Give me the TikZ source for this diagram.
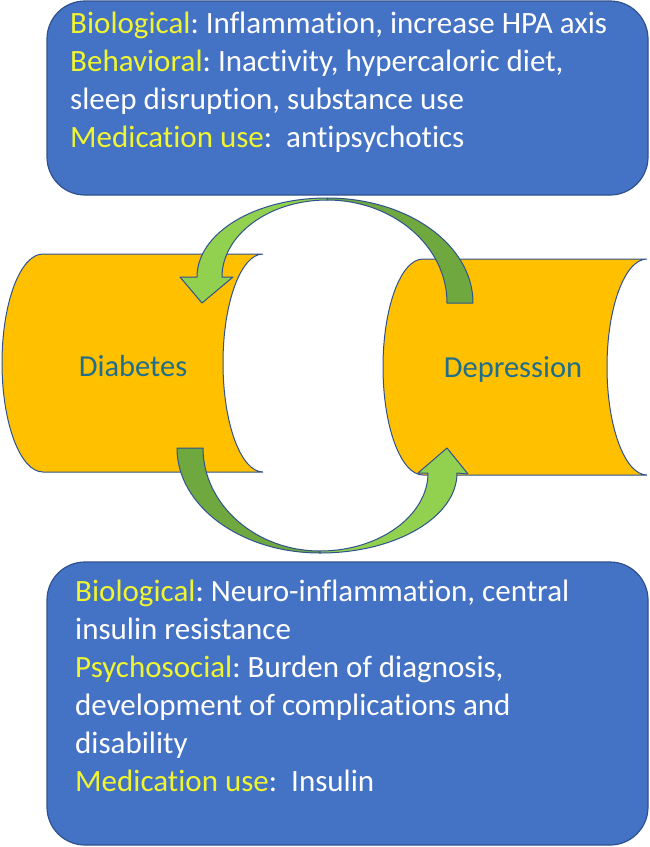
\documentclass[tikz,border=0pt]{standalone}
\usepackage{fontspec}
\setmainfont{Carlito}[Ligatures=NoCommon]
\usetikzlibrary{positioning}
\definecolor{boxblue}{RGB}{68,114,196}
\definecolor{edgeblue}{RGB}{47,82,143}
\definecolor{tubeorange}{RGB}{255,192,0}
\definecolor{leafgreen}{RGB}{146,208,80}
\definecolor{mossgreen}{RGB}{112,168,64}
\definecolor{tagyellow}{RGB}{240,245,50}
\definecolor{labelteal}{RGB}{31,110,140}
\newcommand{\tagword}[1]{\textcolor{tagyellow}{#1}}
\frenchspacing

\begin{document}
\begin{tikzpicture}[
  x=1pt, y=-1pt,
  infobox/.style={draw=edgeblue, fill=boxblue, line width=1.2pt, rounded corners=38pt, minimum width=601pt},
  infotext/.style={anchor=base west, inner sep=0pt, align=left, text=white, font=\fontsize{31}{38}\selectfont},
  tube/.style={draw=edgeblue, fill=tubeorange, line width=1pt},
  tubelabel/.style={text=labelteal, font=\fontsize{30.5}{36}\selectfont},
  shade/.style={draw=edgeblue, fill=mossgreen, line width=1pt, line join=round},
  bright/.style={draw=edgeblue, fill=leafgreen, line width=1pt, line join=round},
]
  \useasboundingbox (0,0) rectangle (650,847);

  % Boxes (text anchored on its last baseline)
  \node[infobox, minimum height=194pt] (topbox) at (347.5,98) {};
  \node[infobox, minimum height=283pt] (botbox) at (347.5,703.5) {};
  \node[infotext] (toptext) at (70,147) {\tagword{Biological}: Inflammation, increase HPA axis\\
    \tagword{Behavioral}: Inactivity, hypercaloric diet,\\
    sleep disruption, substance use\\
    \tagword{Medication use}:\ \ antipsychotics};
  \node[infotext] (bottext) at (75,791) {\tagword{Biological}: Neuro-inflammation, central\\
    insulin resistance\\
    \tagword{Psychosocial}: Burden of diagnosis,\\
    development of complications and\\
    disability\\
    \tagword{Medication use}:\ \ Insulin};

  % Tubes
  \draw[tube] (43,254) -- (263,254) arc[start angle=-90, end angle=-270, x radius=40, y radius=109]
    -- (43,472) arc[start angle=90, end angle=270, x radius=41, y radius=109] -- cycle;
  \draw[tube] (423,259) -- (647,259) arc[start angle=-90, end angle=-270, x radius=40, y radius=108]
    -- (423,475) arc[start angle=90, end angle=270, x radius=40, y radius=108] -- cycle;
  \node[tubelabel] (diab) at (133,366) {Diabetes};
  \node[tubelabel] (depr) at (513,369) {Depression};

  % Upper arrow (Depression to Diabetes)
  \draw[shade] (327,198) .. controls (408,198) and (473,245) .. (473,303) -- (447,303)
    .. controls (447,246) and (393,200) .. (327,200) -- cycle;
  \draw[bright] (327,198) .. controls (255,198) and (197,233) .. (197,277) -- (180,277) -- (202,303)
    -- (233,277) -- (222,277) .. controls (222,235) and (269,200) .. (327,200) -- cycle;

  % Lower arrow (Diabetes to Depression)
  \draw[shade] (177,448) .. controls (177,506) and (241,553) .. (320,553) -- (320,551)
    .. controls (255,551) and (203,504) .. (203,448) -- cycle;
  \draw[bright] (320,553) .. controls (396,553) and (457,517) .. (457,473) -- (468,474) -- (447,448)
    -- (418,473) -- (428,473) .. controls (428,515) and (380,551) .. (320,551) -- cycle;
\end{tikzpicture}
\end{document}
